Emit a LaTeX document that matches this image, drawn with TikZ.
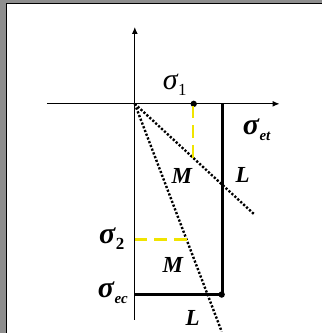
\documentclass[tikz,border=0pt]{standalone}
\definecolor{framegray}{RGB}{142,142,142}
\definecolor{dashyellow}{RGB}{240,228,0}
\usepackage{amsmath, amssymb}
\usepackage{fontspec}
\setmainfont{Liberation Serif}
\usepackage{tikz}
\usetikzlibrary{arrows.meta, positioning}
\newcommand{\sig}[3][]{{\fontsize{15}{15}\selectfont#1\itshape σ}\kern0.3pt\raisebox{-0.3em}{\fontsize{#2}{#2}\selectfont#3}}

\begin{document}
\begin{tikzpicture}[x=0.5pt, y=-0.5pt,
    dot/.style={circle, fill=black, inner sep=0pt, minimum size=3.2pt},
    lbl/.style={inner sep=0pt},
    ml/.style={inner sep=0pt, font=\fontsize{11.5}{11.5}\selectfont\bfseries\itshape}]
  % Window frame
  \fill[framegray] (0,0) rectangle (322,333);
  \fill[white] (7,4) rectangle (322,333);
  \draw[line width=0.5pt] (6.5,333) -- (6.5,3.5) -- (322,3.5);
  \useasboundingbox (0,0) rectangle (322,333);

  % Axes
  \coordinate (O) at (135,104);
  \coordinate (xl) at (47,104);
  \coordinate (xr) at (280,104);
  \coordinate (yt) at (135,27);
  \coordinate (yb) at (135,320);
  \draw[line width=0.6pt, -{Latex[length=3.5pt, width=3pt]}] (xl) -- (xr);
  \draw[line width=0.6pt, -{Latex[length=3.5pt, width=3pt]}] (yb) -- (yt);

  % Limit rectangle
  \coordinate (et) at (223,104);
  \coordinate (ec) at (135,295);
  \node[dot] (c) at (222,295) {};
  \draw[line width=1.3pt] (et) -- (223,295) -- (ec);

  % Load lines
  \coordinate (L1end) at (255,215);
  \coordinate (L2end) at (222,332);
  \draw[line width=1.2pt, dash pattern=on 1.1pt off 0.9pt] (O) -- (L1end);
  \draw[line width=1.2pt, dash pattern=on 1.1pt off 0.9pt] (O) -- (L2end);

  % Working points
  \node[dot] (s1) at (194,104) {};
  \coordinate (m1) at (193,159);
  \coordinate (s2) at (135,240);
  \coordinate (m2) at (189,240);
  \draw[dashyellow, line width=1.2pt, dash pattern=on 6.3pt off 3.5pt] (193,106) -- (m1);
  \draw[dashyellow, line width=1.2pt, dash pattern=on 6.3pt off 3.5pt] (s2) -- (m2);

  % Labels
  \node[lbl] (sig1) at (175,85) {\sig{8.5}{1}};
  \node[lbl] (sigEt) at (257,130) {\sig[\bfseries]{7.5}{\bfseries\itshape et}};
  \node[lbl] (sig2) at (112,239) {\sig[\bfseries]{8.5}{\bfseries 2}};
  \node[lbl] (sigEc) at (113,293) {\sig[\bfseries]{7.5}{\bfseries\itshape ec}};
  \node[ml] (M1) at (182,176) {M};
  \node[ml] (L1) at (243,175) {L};
  \node[ml] (M2) at (173,265) {M};
  \node[ml] (L2) at (193,318) {L};
\end{tikzpicture}
\end{document}
